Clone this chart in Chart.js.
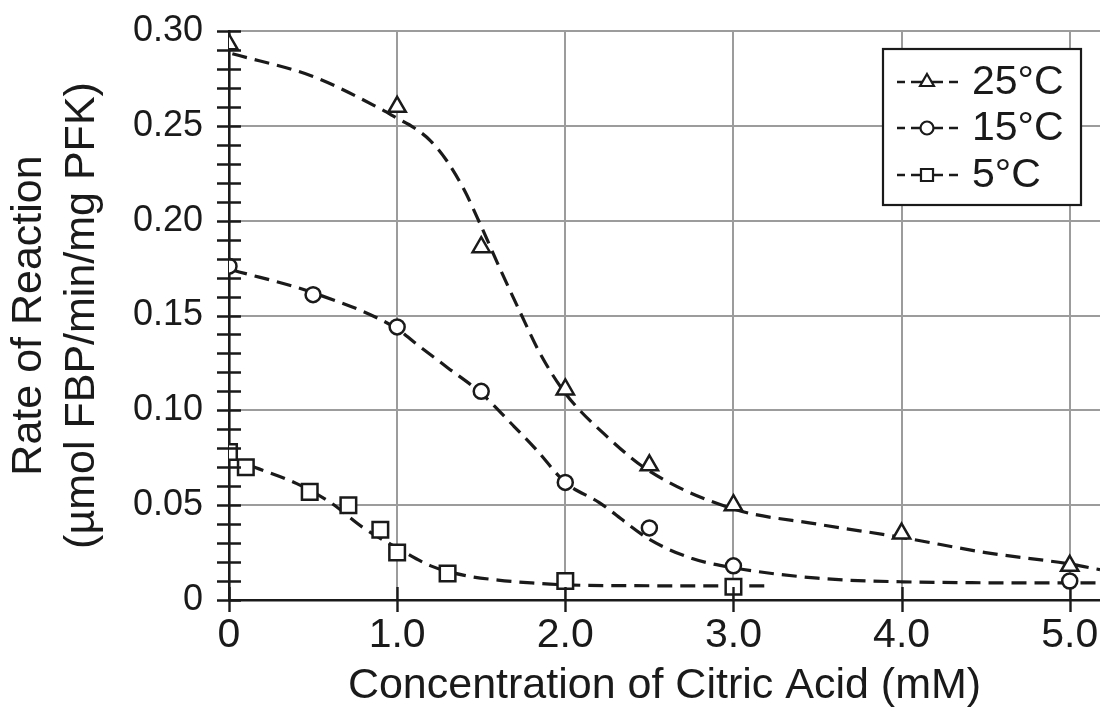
<!DOCTYPE html>
<html>
<head>
<meta charset="utf-8">
<title>PFK rate vs citric acid</title>
<script src="https://cdn.jsdelivr.net/npm/chart.js@4.4.1/dist/chart.umd.min.js"></script>
<style>
  html, body { margin: 0; padding: 0; background: #fff; }
  #wrap { width: 1100px; height: 712px; }
</style>
</head>
<body>
<div id="wrap"><canvas id="chart" width="1100" height="712"></canvas></div>
<script>
const conc25 = [0, 1.0, 1.5, 2.0, 2.5, 3.0, 4.0, 5.0];
const rate25 = [0.293, 0.260, 0.186, 0.111, 0.071, 0.050, 0.035, 0.018];
const conc15 = [0, 0.5, 1.0, 1.5, 2.0, 2.5, 3.0, 5.0];
const rate15 = [0.176, 0.161, 0.144, 0.110, 0.062, 0.038, 0.018, 0.010];
const conc5 = [0, 0.1, 0.48, 0.71, 0.9, 1.0, 1.3, 2.0, 3.0];
const rate5 = [0.078, 0.070, 0.057, 0.050, 0.037, 0.025, 0.014, 0.010, 0.007];

// --- dashed fit curves ---
const fitX25 = [0.02, 0.5, 0.9, 1.0, 1.1, 1.2, 1.3, 1.4, 1.5, 1.61, 1.73, 1.85, 2.0, 2.25, 2.5, 3.0, 3.5, 4.0, 4.5, 5.0, 5.18];
const fitY25 = [0.288, 0.276, 0.259, 0.254, 0.249, 0.242, 0.231, 0.216, 0.197, 0.175, 0.152, 0.130, 0.109, 0.086, 0.068, 0.048, 0.040, 0.033, 0.025, 0.019, 0.016];
const fitX15 = [0.02, 0.5, 1.0, 1.1, 1.3, 1.5, 1.69, 1.83, 2.0, 2.2, 2.5, 2.75, 3.0, 3.5, 4.0, 5.0, 5.18];
const fitY15 = [0.174, 0.162, 0.143, 0.136, 0.1225, 0.109, 0.092, 0.079, 0.062, 0.0515, 0.032, 0.022, 0.017, 0.0115, 0.0096, 0.009, 0.009];
const fitX5 = [0.12, 0.4, 0.6, 0.8, 1.0, 1.2, 1.4, 1.6, 1.8, 2.0, 2.5, 3.0, 3.2];
const fitY5 = [0.071, 0.0615, 0.0516, 0.038, 0.0275, 0.018, 0.013, 0.0105, 0.009, 0.008, 0.0075, 0.0074, 0.0074];

const seriesLabels = ['25°C', '15°C', '5°C'];
const seriesMarkers = ['triangle', 'circle', 'rect'];

const xTicks = [0, 1, 2, 3, 4, 5];
const yTicks = [0, 0.05, 0.10, 0.15, 0.20, 0.25, 0.30];

const FONT = '"Liberation Sans", Arial, Helvetica, sans-serif';
const INK = '#1a1a1a';

const pts = (xs, ys) => xs.map((x, i) => ({ x, y: ys[i] }));

function markerSet(label, xs, ys, style, radius) {
    return {
        label, data: pts(xs, ys), showLine: false, order: 1,
        pointStyle: style, pointRadius: radius, pointHoverRadius: radius,
        pointBorderWidth: 2.5, pointBorderColor: INK, pointBackgroundColor: '#fff'
    };
}
function curveSet(xs, ys) {
    return {
        label: '', data: pts(xs, ys), showLine: true, order: 2,
        borderColor: INK, borderWidth: 3.2, borderDash: [15, 8],
        cubicInterpolationMode: 'monotone', pointRadius: 0, fill: false
    };
}

// axis tick marks crossing the axis lines
const axisTicks = {
    id: 'axisTicks',
    afterDraw(chart) {
        const { ctx, scales: { x, y } } = chart;
        const x0 = x.getPixelForValue(0), y0 = y.getPixelForValue(0);
        ctx.save();
        ctx.strokeStyle = INK; ctx.lineWidth = 2.4;
        ctx.beginPath();
        for (let k = 0; k <= 30; k++) {
            const py = Math.round(y.getPixelForValue(k / 100)) + 0.5;
            ctx.moveTo(x0 - 12, py); ctx.lineTo(x0 + 12, py);
        }
        for (const v of xTicks) {
            const px = Math.round(x.getPixelForValue(v)) + 0.5;
            ctx.moveTo(px, y0 - 13); ctx.lineTo(px, y0 + 12);
        }
        ctx.stroke();
        ctx.restore();
    }
};

// boxed legend in the upper right
const boxLegend = {
    id: 'boxLegend',
    afterDraw(chart) {
        const ctx = chart.ctx;
        const bx = 883, by = 49, bw = 198, bh = 156;
        ctx.save();
        ctx.fillStyle = '#fff';
        ctx.fillRect(bx, by, bw, bh);
        ctx.strokeStyle = INK; ctx.lineWidth = 2.2;
        ctx.strokeRect(bx, by, bw, bh);
        const rows = [82, 128, 175];
        const radii = [8, 6.5, 8.5];
        seriesLabels.forEach((lab, i) => {
            const cy = rows[i];
            ctx.strokeStyle = INK; ctx.lineWidth = 2.6;
            ctx.beginPath();
            ctx.moveTo(897, cy); ctx.lineTo(905, cy);
            ctx.moveTo(911, cy); ctx.lineTo(943, cy);
            ctx.moveTo(949, cy); ctx.lineTo(958, cy);
            ctx.stroke();
            ctx.fillStyle = '#fff'; ctx.lineWidth = 2.2;
            Chart.helpers.drawPoint(ctx, { pointStyle: seriesMarkers[i], radius: radii[i], rotation: 0, borderWidth: 2.2 }, 927, cy);
            ctx.fillStyle = INK;
            ctx.font = '41px ' + FONT;
            ctx.textBaseline = 'middle';
            ctx.textAlign = 'left';
            ctx.fillText(lab, 972, cy + 1);
        });
        ctx.restore();
    }
};

new Chart(document.getElementById('chart'), {
    type: 'scatter',
    data: {
        datasets: [
            curveSet(fitX25, fitY25),
            curveSet(fitX15, fitY15),
            curveSet(fitX5, fitY5),
            markerSet(seriesLabels[0], conc25, rate25, 'triangle', 10),
            markerSet(seriesLabels[1], conc15, rate15, 'circle', 7.5),
            markerSet(seriesLabels[2], conc5, rate5, 'rect', 11)
        ]
    },
    options: {
        responsive: false, animation: false, devicePixelRatio: 1,
        layout: { autoPadding: false, padding: { top: 31, right: 0, left: 0, bottom: 0 } },
        plugins: { legend: { display: false }, tooltip: { enabled: false } },
        scales: {
            x: {
                type: 'linear', min: 0, max: 5.18,
                afterFit: s => { s.height = 112; s.paddingLeft = 0; s.paddingRight = 0; },
                afterBuildTicks: s => { s.ticks = xTicks.map(v => ({ value: v })); },
                ticks: {
                    includeBounds: false, padding: 11, color: INK,
                    font: { family: FONT, size: 41 },
                    callback: v => v === 0 ? '0' : v.toFixed(1)
                },
                grid: { color: '#9c9c9c', lineWidth: 2, drawTicks: false },
                border: { color: INK, width: 2.6 },
                title: {
                    display: true, text: 'Concentration of Citric Acid (mM)',
                    color: INK, font: { family: FONT, size: 43 }, padding: { top: 13, bottom: 0 }
                }
            },
            y: {
                min: 0, max: 0.30,
                afterFit: s => { s.width = 229; s.paddingTop = 0; s.paddingBottom = 0; },
                afterBuildTicks: s => { s.ticks = yTicks.map(v => ({ value: v })); },
                ticks: {
                    padding: 26, color: INK,
                    font: { family: FONT, size: 36 },
                    callback: v => v === 0 ? '0' : v.toFixed(2)
                },
                grid: { color: '#9c9c9c', lineWidth: 2, drawTicks: false },
                border: { color: INK, width: 2.6 },
                title: {
                    display: true, text: ['Rate of Reaction', '(µmol FBP/min/mg PFK)'],
                    color: INK, font: { family: FONT, size: 43, lineHeight: 1.22 }, padding: { top: 3, bottom: 0 }
                }
            }
        }
    },
    plugins: [axisTicks, boxLegend]
});
</script>
</body>
</html>
